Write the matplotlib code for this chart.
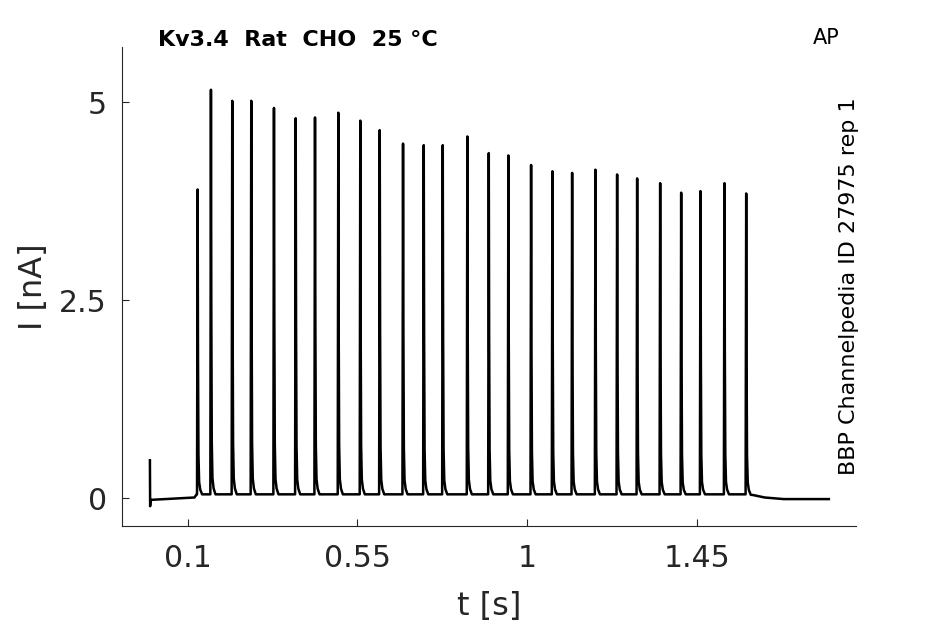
import numpy as np
import matplotlib
matplotlib.use("Agg")
import matplotlib.pyplot as plt

# spike times (s) and peak currents (nA)
spike_t = [0.1265, 0.1618, 0.2183, 0.2687, 0.3289, 0.3865, 0.4377, 0.4995, 0.5578,
           0.6093, 0.6711, 0.7260, 0.7764, 0.8416, 0.8984, 0.9504, 1.0106, 1.0671,
           1.1194, 1.1812, 1.2387, 1.2918, 1.3528, 1.4085, 1.4597, 1.5233, 1.5809]
spike_peak = [3.85, 5.11, 4.97, 4.97, 4.88, 4.75, 4.76, 4.82, 4.72,
              4.60, 4.43, 4.41, 4.41, 4.52, 4.31, 4.28, 4.16, 4.08,
              4.06, 4.10, 4.04, 3.99, 3.93, 3.81, 3.83, 3.93, 3.80]

# holding baseline between spikes
base_t = [0.0, 0.10, 0.118, 0.124, 1.585, 1.60, 1.63, 1.68, 1.80]
base_i = [-0.02, -0.01, 0.01, 0.05, 0.05, 0.04, 0.01, -0.01, -0.01]

# capacitive transient at the start
trans_t = [0.0, 0.0006, 0.0016]
trans_i = [0.48, -0.10, -0.02]

# shape of one spike (offset from peak, fraction of peak)
shape_dt = [-0.0016, 0.0, 0.0010, 0.0022, 0.0040, 0.0070, 0.0120]
shape_fr = [0.0, 1.0, 0.45, 0.13, 0.04, 0.015, 0.0]

xticks = [0.1, 0.55, 1, 1.45]
xticklabels = ["0.1", "0.55", "1", "1.45"]
yticks = [0, 2.5, 5]
yticklabels = ["0", "2.5", "5"]

# build the trace vertices
pts = [np.array(base_t[2:])]
for ts in spike_t:
    pts.append(ts + np.array(shape_dt))
t = np.unique(np.concatenate(pts))
cur = np.interp(t, base_t, base_i)
for ts, pk in zip(spike_t, spike_peak):
    cur += pk * np.interp(t - ts, shape_dt, shape_fr, left=0, right=0)
t = np.concatenate([trans_t, t[t > trans_t[-1]]])
cur = np.concatenate([trans_i, cur[-(len(t) - len(trans_t)):]])

gray = "#262626"
fig = plt.figure(figsize=(9.45, 6.24), dpi=100)
ax = fig.add_axes([122/945, 98/624, 734/945, 479/624])
ax.plot(t, cur, "-", color="k", lw=1.8)

ax.set_xlim(-0.074, 1.872)
ax.set_ylim(-0.35, 5.70)
ax.set_xticks(xticks)
ax.set_xticklabels(xticklabels)
ax.set_yticks(yticks)
ax.set_yticklabels(yticklabels)

for side in ["top", "right"]:
    ax.spines[side].set_visible(False)
for side in ["left", "bottom"]:
    ax.spines[side].set_color(gray)
    ax.spines[side].set_linewidth(0.8)
ax.tick_params(direction="in", length=5, width=0.8, color=gray,
               labelcolor=gray, labelsize=21.5)
ax.tick_params(axis="x", pad=13)
ax.tick_params(axis="y", pad=11)

ax.set_xlabel("t [s]", fontsize=23, color=gray, labelpad=13)
ax.set_ylabel("I [nA]", fontsize=23, color=gray, labelpad=7)

fig.text(158/945, 1 - 40/624, "Kv3.4  Rat  CHO  25 °C", fontsize=16,
         fontweight="bold", ha="left", va="center")
fig.text(826/945, 1 - 38/624, "AP", fontsize=15, ha="center", va="center")
fig.text(849/945, 1 - 286/624, "BBP Channelpedia ID 27975 rep 1", fontsize=16,
         rotation=90, ha="center", va="center")

fig.savefig("out.png", dpi=100)
